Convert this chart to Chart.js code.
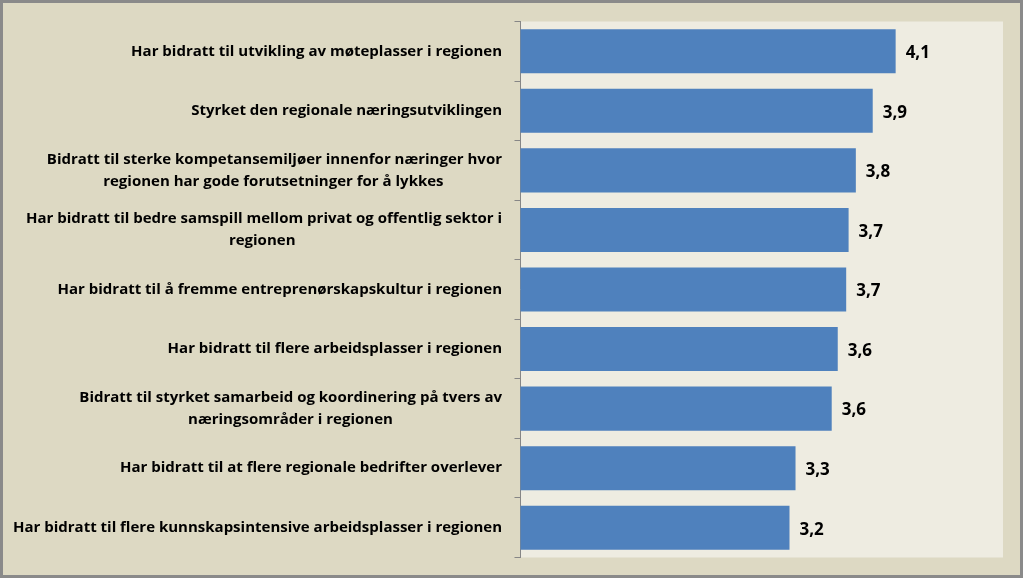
<!DOCTYPE html>
<html>
<head>
<meta charset="utf-8">
<script src="https://cdn.jsdelivr.net/npm/chart.js@4"></script>
<style>
  html, body { margin: 0; padding: 0; background: #ffffff; }
  canvas { display: block; }
</style>
</head>
<body>
<canvas id="chart" width="1023" height="578"></canvas>
<script>
// Data
let categories = [
  ['Har bidratt til utvikling av møteplasser i regionen'],
  ['Styrket den regionale næringsutviklingen'],
  ['Bidratt til sterke kompetansemiljøer innenfor næringer hvor', 'regionen har gode forutsetninger for å lykkes'],
  ['Har bidratt til bedre samspill mellom privat og offentlig sektor i', 'regionen'],
  ['Har bidratt til å fremme entreprenørskapskultur i regionen'],
  ['Har bidratt til flere arbeidsplasser i regionen'],
  ['Bidratt til styrket samarbeid og koordinering på tvers av', 'næringsområder i regionen'],
  ['Har bidratt til at flere regionale bedrifter overlever'],
  ['Har bidratt til flere kunnskapsintensive arbeidsplasser i regionen']
];
let values = [4.11, 3.92, 3.78, 3.72, 3.70, 3.63, 3.58, 3.28, 3.23];
let axisMin = 1;
let axisMax = 5;

// Styles
let labelFont = { family: 'Open Sans', size: 15, weight: 'bold', lineHeight: 1.45 };
let valueFont = 'bold 17px "Open Sans"';
let barColor = '#4F81BD';
let outerBg = '#DDD9C3';
let plotBg = '#EEECE1';
let axisColor = '#868686';

// Excel centres each wrapped label block; pad the short lines so they sit centred
let measureCtx = document.createElement('canvas').getContext('2d');
function centerLines(lines) {
  measureCtx.font = labelFont.weight + ' ' + labelFont.size + 'px "' + labelFont.family + '"';
  let widths = lines.map(l => measureCtx.measureText(l).width);
  let widest = Math.max(...widths);
  let sp = measureCtx.measureText('\u00a0').width;
  return lines.map((l, i) => l + '\u00a0'.repeat(Math.round((widest - widths[i]) / 2 / sp)));
}
let labels = categories.map(c => c.length > 1 ? centerLines(c) : c[0]);

// Backgrounds and frame
let backdrop = {
  id: 'backdrop',
  beforeDraw(chart) {
    let ctx = chart.ctx;
    let a = chart.chartArea;
    ctx.save();
    ctx.fillStyle = outerBg;
    ctx.fillRect(0, 0, chart.width, chart.height);
    ctx.fillStyle = plotBg;
    ctx.fillRect(a.left, a.top, a.right - a.left, a.bottom - a.top);
    ctx.strokeStyle = '#8A8A8A';
    ctx.lineWidth = 3;
    ctx.strokeRect(1.5, 1.5, chart.width - 3, chart.height - 3);
    ctx.restore();
  }
};

// Value labels at bar ends
let valueLabels = {
  id: 'valueLabels',
  afterDatasetsDraw(chart) {
    let ctx = chart.ctx;
    let meta = chart.getDatasetMeta(0);
    ctx.save();
    ctx.font = valueFont;
    ctx.fillStyle = '#000000';
    ctx.textBaseline = 'middle';
    ctx.textAlign = 'left';
    meta.data.forEach((bar, i) => {
      ctx.fillText(values[i].toFixed(1).replace('.', ','), bar.x + 10, bar.y + 2);
    });
    ctx.restore();
  }
};

new Chart(document.getElementById('chart'), {
  type: 'bar',
  data: {
    labels: labels,
    datasets: [{
      data: values,
      backgroundColor: barColor,
      borderWidth: 0,
      categoryPercentage: 1,
      barPercentage: 0.74
    }]
  },
  options: {
    indexAxis: 'y',
    responsive: false,
    animation: false,
    devicePixelRatio: 1,
    layout: { padding: { top: 21.5, bottom: 20.5, right: 20, left: 0 } },
    plugins: {
      legend: { display: false },
      tooltip: { enabled: false }
    },
    scales: {
      x: {
        display: false,
        min: axisMin,
        max: axisMax
      },
      y: {
        afterFit(scale) {
          scale.width = 520.5;
          scale.paddingTop = 0;
          scale.paddingBottom = 0;
        },
        border: { display: true, color: axisColor, width: 1 },
        grid: {
          drawOnChartArea: false,
          drawTicks: true,
          tickLength: 6,
          color: axisColor,
          offset: true
        },
        ticks: {
          color: '#000000',
          font: labelFont,
          padding: 12.5,
          autoSkip: false,
          crossAlign: 'near'
        }
      }
    }
  },
  plugins: [backdrop, valueLabels]
});
</script>
</body>
</html>
